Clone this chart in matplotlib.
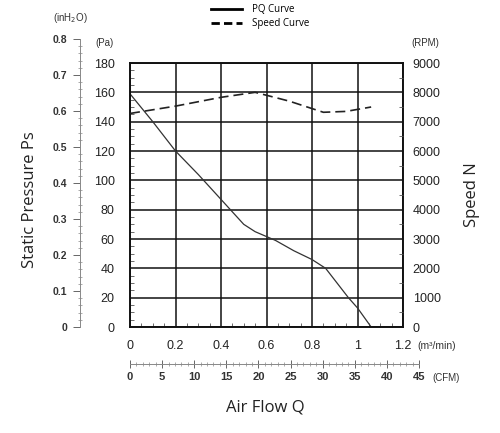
import numpy as np
import matplotlib.pyplot as plt
from matplotlib.ticker import MultipleLocator
from matplotlib.lines import Line2D

# PQ curve: air flow (m3/min) vs static pressure (Pa)
pq_flow = [0, 0.1, 0.2, 0.3, 0.4, 0.5, 0.55, 0.64, 0.72, 0.8, 0.86, 0.92, 0.96, 1.0, 1.06]
pq_pressure = [159, 140, 120, 104, 87, 70, 65, 59, 52, 46, 40, 28, 20, 13, 0]

# Speed curve: air flow (m3/min) vs speed (RPM)
speed_flow = [0, 0.2, 0.4, 0.55, 0.7, 0.85, 0.95, 1.06]
speed_rpm = [7280, 7530, 7830, 8000, 7700, 7320, 7350, 7500]

pa_ticks = [0, 20, 40, 60, 80, 100, 120, 140, 160, 180]
rpm_ticks = [0, 1000, 2000, 3000, 4000, 5000, 6000, 7000, 8000, 9000]
flow_ticks = [0, 0.2, 0.4, 0.6, 0.8, 1.0, 1.2]
flow_labels = ['0', '0.2', '0.4', '0.6', '0.8', '1', '1.2']
inh2o_ticks = [0, 0.1, 0.2, 0.3, 0.4, 0.5, 0.6, 0.7, 0.8]
inh2o_labels = ['0', '0.1', '0.2', '0.3', '0.4', '0.5', '0.6', '0.7', '0.8']
cfm_ticks = [0, 5, 10, 15, 20, 25, 30, 35, 40, 45]

num_font = 'Liberation Sans'
txt_font = 'Open Sans'

fig = plt.figure(figsize=(5, 4.33), dpi=100)

# main axes
ax = fig.add_axes([0.26, 0.2448, 0.546, 0.6097])
ax.plot(pq_flow, pq_pressure, color='#333333', lw=0.9)
ax.set_xlim(0, 1.2)
ax.set_ylim(0, 180)
ax.set_xticks(flow_ticks)
ax.set_xticklabels(flow_labels, fontsize=9, family=num_font, color='#222222')
ax.set_yticks(pa_ticks)
ax.set_yticklabels([str(t) for t in pa_ticks], fontsize=9, family=num_font, color='#222222')
ax.xaxis.set_minor_locator(MultipleLocator(0.05))
ax.yaxis.set_minor_locator(MultipleLocator(5))
ax.tick_params(which='major', length=0, pad=9)
ax.tick_params(axis='y', which='major', pad=11)
ax.tick_params(which='minor', direction='in', length=3, width=0.6, color='#555555')
ax.grid(True, which='major', color='#111111', lw=1.1)
for s in ax.spines.values():
    s.set_linewidth(1.4)
    s.set_color('#111111')

# right speed axis
ax2 = ax.twinx()
ax2.plot(speed_flow, speed_rpm, color='#222222', lw=1.2, ls=(0, (6, 3)))
ax2.set_ylim(0, 9000)
ax2.set_yticks(rpm_ticks)
ax2.set_yticklabels([str(t) for t in rpm_ticks], fontsize=9, family=num_font, color='#222222')
ax2.yaxis.set_minor_locator(MultipleLocator(500))
ax2.tick_params(which='major', length=0, pad=7)
ax2.tick_params(which='minor', direction='in', length=3, width=0.6, color='#555555')
for s in ax2.spines.values():
    s.set_visible(False)

# inH2O axis
ax3 = fig.add_axes([0.16, 0.2448, 0.001, 0.665])
ax3.set_ylim(0, 0.8)
ax3.set_yticks(inh2o_ticks)
ax3.set_yticklabels(inh2o_labels, fontsize=7.5, family=num_font, fontweight='bold', color='#333333')
ax3.yaxis.set_minor_locator(MultipleLocator(0.02))
ax3.tick_params(axis='y', which='major', direction='out', length=5, width=0.7, color='#666666', pad=4)
ax3.tick_params(axis='y', which='minor', direction='inout', length=3, width=0.5, color='#888888')
ax3.set_xticks([])
for k in ['top', 'right', 'bottom']:
    ax3.spines[k].set_visible(False)
ax3.spines['left'].set_color('#888888')
ax3.spines['left'].set_linewidth(0.7)
ax3.patch.set_visible(False)

# CFM axis
ax4 = fig.add_axes([0.26, 0.159, 0.578, 0.001])
ax4.set_xlim(0, 45)
ax4.set_xticks(cfm_ticks)
ax4.set_xticklabels([str(t) for t in cfm_ticks], fontsize=8, family=num_font, fontweight='bold', color='#333333')
ax4.xaxis.set_minor_locator(MultipleLocator(1))
ax4.tick_params(axis='x', which='major', direction='inout', length=6, width=0.7, color='#666666', pad=3)
ax4.tick_params(axis='x', which='minor', direction='inout', length=3, width=0.5, color='#888888')
ax4.set_yticks([])
for k in ['top', 'right', 'left']:
    ax4.spines[k].set_visible(False)
ax4.spines['bottom'].set_color('#888888')
ax4.spines['bottom'].set_linewidth(0.7)
ax4.patch.set_visible(False)

# unit labels
fig.text(70 / 500, 1 - 18 / 433, '(inH$_2$O)', fontsize=7, family=num_font, ha='center', va='center', color='#333333')
fig.text(105 / 500, 1 - 43 / 433, '(Pa)', fontsize=7, family=num_font, ha='center', va='center', color='#333333')
fig.text(425 / 500, 1 - 43 / 433, '(RPM)', fontsize=7, family=num_font, ha='center', va='center', color='#333333')
fig.text(417 / 500, 1 - 346 / 433, '(m³/min)', fontsize=7.5, family=num_font, ha='left', va='center', color='#333333')
fig.text(432 / 500, 1 - 378 / 433, '(CFM)', fontsize=7, family=num_font, ha='left', va='center', color='#333333')

# axis titles
fig.text(30 / 500, 1 - 200 / 433, 'Static Pressure Ps', fontsize=12, family=txt_font, rotation=90,
         ha='center', va='center', color='#222222')
fig.text(472 / 500, 1 - 195 / 433, 'Speed N', fontsize=12, family=txt_font, rotation=90,
         ha='center', va='center', color='#222222')
fig.text(265 / 500, 1 - 408 / 433, 'Air Flow Q', fontsize=12, family=txt_font,
         ha='center', va='center', color='#222222')

# legend
handles = [Line2D([], [], color='black', lw=2),
           Line2D([], [], color='black', lw=2, ls=(0, (3, 1.5)))]
fig.legend(handles, ['PQ Curve', 'Speed Curve'], loc='upper center', bbox_to_anchor=(0.52, 1.01),
           frameon=False, prop={'family': txt_font, 'size': 7}, handlelength=3.2,
           labelspacing=0.3, handletextpad=1.0)

fig.savefig('out.png', dpi=100)
